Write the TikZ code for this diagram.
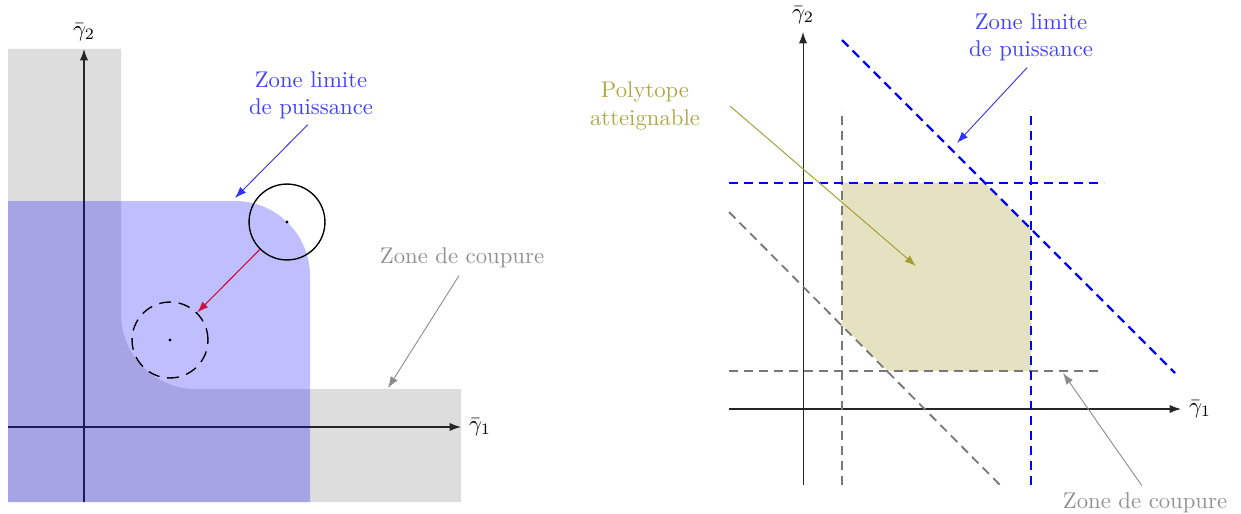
\documentclass[tikz,border=0pt]{standalone}
\usetikzlibrary{arrows.meta}
\definecolor{zonegray}{RGB}{221,221,221}
\definecolor{txtblue}{RGB}{64,64,255}
\definecolor{arrblue}{RGB}{50,50,255}
\definecolor{txtgray}{RGB}{145,145,145}
\definecolor{arrgray}{RGB}{140,140,140}
\definecolor{txtolive}{RGB}{175,168,72}
\definecolor{arrolive}{RGB}{165,155,50}
\definecolor{polyfill}{RGB}{228,226,192}
\definecolor{crimsonred}{RGB}{204,17,68}
\definecolor{dashgray}{RGB}{120,120,120}
\begin{document}
\begin{tikzpicture}[x=0.44pt,y=0.44pt,
  axis/.style={draw=black!85, line width=0.45pt, -{Latex[length=5pt,width=3.6pt]}},
  lbl/.style={align=center, inner sep=1pt},
  ptr/.style={line width=0.4pt, -{Latex[length=5pt,width=3.6pt]}},
  bdash/.style={draw=blue, line width=1pt, dash pattern=on 4pt off 2.6pt},
  gdash/.style={draw=dashgray, line width=0.8pt, dash pattern=on 4pt off 2.6pt},
  ring/.style={circle, draw, line width=0.6pt, minimum size=33.4pt, inner sep=0pt}
]
\useasboundingbox (0,0) rectangle (1241,513);

% ---------- left diagram ----------
\fill[zonegray] (8,464) -- (121,464) -- (121,199)
  arc[start angle=180,end angle=270,radius=33pt] -- (461,124) -- (461,11) -- (8,11) -- cycle;

\coordinate (Lx0) at (8,86);
\coordinate (Lx1) at (461,86);
\coordinate (Ly0) at (84,11);
\coordinate (Ly1) at (84,464);
\draw[axis] (Lx0) -- (Lx1) node[right] (Lg1) {$\bar\gamma_1$};
\draw[axis] (Ly0) -- (Ly1) node[above] (Lg2) {$\bar\gamma_2$};

\fill[blue, opacity=0.25] (8,11) -- (8,312) -- (235,312)
  arc[start angle=90,end angle=0,radius=33pt] -- (310,11) -- cycle;

\node[ring] (c1) at (287,291) {};
\node[ring, dash pattern=on 5.2pt off 3.4pt] (c2) at (170,173) {};
\fill (c1.center) circle[radius=0.75pt];
\fill (c2.center) circle[radius=0.75pt];
\draw[ptr, draw=crimsonred, line width=0.5pt] (c1) -- (c2);

\node[lbl, text=txtblue] (zlL) at (311,418) {Zone limite\\de puissance};
\coordinate (zlLt) at (235,315);
\draw[ptr, draw=arrblue, shorten <=2pt] (zlL.south) -- (zlLt);

\node[lbl, text=txtgray] (zcL) at (462,255) {Zone de coupure};
\coordinate (zcLt) at (388,125);
\draw[ptr, draw=arrgray, shorten <=2.5pt] (zcL.south) -- (zcLt);

% ---------- right diagram ----------
\fill[polyfill] (842,330) -- (985,330) -- (1031,284) -- (1031,142) -- (888,142) -- (842,188) -- cycle;

\coordinate (Rx0) at (729,104);
\coordinate (Rx1) at (1181,104);
\coordinate (Ry0) at (803,28);
\coordinate (Ry1) at (803,481);
\draw[axis] (Rx0) -- (Rx1) node[right] (Rg1) {$\bar\gamma_1$};
\draw[axis] (Ry0) -- (Ry1) node[above] (Rg2) {$\bar\gamma_2$};

\coordinate (gv0) at (842,28);   \coordinate (gv1) at (842,403);
\coordinate (gh0) at (729,142);  \coordinate (gh1) at (1104,142);
\coordinate (gd0) at (729,301);  \coordinate (gd1) at (1000,28);
\coordinate (bv0) at (1031,28);  \coordinate (bv1) at (1031,403);
\coordinate (bh0) at (729,330);  \coordinate (bh1) at (1104,330);
\coordinate (bd0) at (842,473);  \coordinate (bd1) at (1175,140);
\draw[gdash] (gv0) -- (gv1);
\draw[gdash] (gh0) -- (gh1);
\draw[gdash] (gd0) -- (gd1);
\draw[bdash] (bv0) -- (bv1);
\draw[bdash] (bh0) -- (bh1);
\draw[bdash] (bd0) -- (bd1);

\node[lbl, text=txtolive] (pol) at (645,407) {Polytope\\atteignable};
\coordinate (polt) at (916,247);
\draw[ptr, draw=arrolive, fill=arrolive] ([xshift=12pt]pol.east) -- (polt);

\node[lbl, text=txtblue] (zlR) at (1031,476) {Zone limite\\de puissance};
\coordinate (zlRt) at (957,370);
\draw[ptr, draw=arrblue, shorten <=2.5pt] (zlR.south) -- (zlRt);

\node[lbl, text=txtgray] (zcR) at (1145,10) {Zone de coupure};
\coordinate (zcRt) at (1063,140);
\draw[ptr, draw=arrgray, shorten <=2.5pt] (zcR.north) -- (zcRt);
\end{tikzpicture}
\end{document}
